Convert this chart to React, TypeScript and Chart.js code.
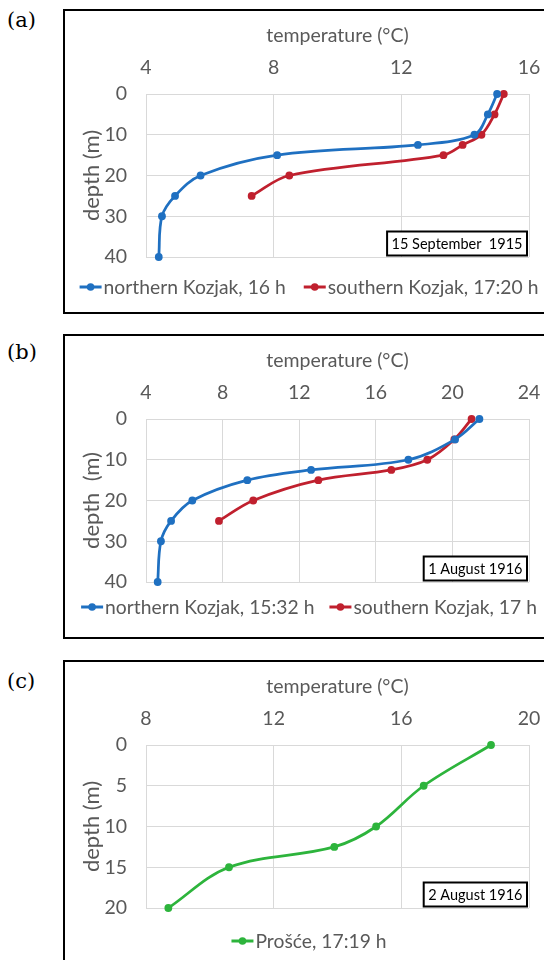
import React, { useEffect, useRef } from 'react';
import { Chart, registerables } from 'chart.js';

Chart.register(...registerables);

const FONT = 'Lato, "Open Sans", sans-serif';
const TEXT = '#595959';
const GRID = '#d9d9d9';
const BLUE = '#1f70c1';
const RED = '#c0202e';
const GREEN = '#2db43c';

// depths (m)
const depthsNorth = [0, 5, 10, 12.5, 15, 20, 25, 30, 40];
const depthsSouth = [0, 5, 10, 12.5, 15, 20, 25];
const depthsProsce = [0, 5, 10, 12.5, 15, 20];

// temperatures (°C)
const tempNorth1915 = [15.0, 14.71, 14.29, 12.52, 8.11, 5.71, 4.91, 4.5, 4.4];
const tempSouth1915 = [15.21, 14.92, 14.51, 13.92, 13.32, 8.49, 7.31];
const tempNorth1916 = [21.41, 20.14, 17.7, 12.62, 9.29, 6.42, 5.31, 4.78, 4.61];
const tempSouth1916 = [21.0, 20.1, 18.69, 16.81, 13.0, 9.6, 7.81];
const tempProsce1916 = [18.81, 16.7, 15.21, 13.9, 10.6, 8.7];

// tick labels
const xTicksA = [4, 8, 12, 16];
const xTicksB = [4, 8, 12, 16, 20, 24];
const xTicksC = [8, 12, 16, 20];
const yTicks40 = [0, 10, 20, 30, 40];
const yTicks20 = [0, 5, 10, 15, 20];

const panelExtras = {
  id: 'panelExtras',
  afterDraw(chart: any, _args: any, opts: any) {
    const ctx = chart.ctx as CanvasRenderingContext2D;
    ctx.save();
    // legend
    ctx.font = `${opts.legendSize}px ${FONT}`;
    ctx.textBaseline = 'middle';
    const ds = chart.data.datasets;
    const markerW = 22;
    const gapText = 2;
    const gapItems = opts.legendGap;
    const widths = ds.map((d: any) => markerW + gapText + ctx.measureText(d.label).width);
    const total = widths.reduce((a: number, b: number) => a + b, 0) + gapItems * (ds.length - 1);
    let x = opts.legendCenter - total / 2;
    const y = opts.legendY;
    ds.forEach((d: any, i: number) => {
      ctx.strokeStyle = d.borderColor;
      ctx.lineWidth = 3;
      ctx.beginPath();
      ctx.moveTo(x, y);
      ctx.lineTo(x + markerW, y);
      ctx.stroke();
      ctx.fillStyle = d.borderColor;
      ctx.beginPath();
      ctx.arc(x + markerW / 2, y, 3.8, 0, Math.PI * 2);
      ctx.fill();
      ctx.fillStyle = TEXT;
      ctx.textAlign = 'left';
      ctx.fillText(d.label, x + markerW + gapText, y + 1);
      x += widths[i] + gapItems;
    });
    // date box
    const area = chart.chartArea;
    ctx.font = `${opts.dateSize}px ${FONT}`;
    const tw = ctx.measureText(opts.dateText).width;
    const bw = tw + 9;
    const bh = 24;
    const right = area.right - 2;
    const bottom = area.bottom - 1.5;
    ctx.fillStyle = '#ffffff';
    ctx.fillRect(right - bw, bottom - bh, bw, bh);
    ctx.strokeStyle = '#000000';
    ctx.lineWidth = 2;
    ctx.strokeRect(right - bw, bottom - bh, bw, bh);
    ctx.fillStyle = '#000000';
    ctx.textAlign = 'center';
    ctx.fillText(opts.dateText, right - bw / 2, bottom - bh / 2 + 1);
    ctx.restore();
  },
};

type Series = { label: string; color: string; depths: number[]; temps: number[] };

function Panel(props: {
  top: number;
  xTicks: number[];
  yTicks: number[];
  yTitle: string;
  series: Series[];
  dateText: string;
  legendY: number;
  legendGap: number;
}) {
  const ref = useRef<HTMLCanvasElement>(null);
  useEffect(() => {
    const { xTicks, yTicks } = props;
    const tickFont = { family: FONT, size: 19.5 };
    const titleFont = { family: FONT, size: 19.5 };
    const yTitleFont = { family: FONT, size: 22 };
    const chart = new Chart(ref.current as HTMLCanvasElement, {
      type: 'scatter',
      data: {
        datasets: props.series.map((s) => ({
          label: s.label,
          data: s.depths.map((d, i) => ({ x: s.temps[i], y: d })),
          borderColor: s.color,
          backgroundColor: s.color,
          showLine: true,
          tension: 0.35,
          borderWidth: 2.75,
          pointRadius: 3.9,
          pointHoverRadius: 3.9,
          pointBorderWidth: 0,
          clip: false as any,
        })),
      },
      options: {
        responsive: false,
        animation: false,
        events: [],
        elements: { line: { capBezierPoints: false } },
        layout: { padding: { left: 0, right: 15, top: 0, bottom: 56 } },
        plugins: {
          legend: { display: false },
          tooltip: { enabled: false },
          panelExtras: {
            dateText: props.dateText,
            legendY: props.legendY,
            legendCenter: 245,
            legendGap: props.legendGap,
            legendSize: 19.3,
            dateSize: 14.5,
          },
        } as any,
        scales: {
          x: {
            type: 'linear',
            position: 'top',
            min: xTicks[0],
            max: xTicks[xTicks.length - 1],
            afterBuildTicks: (s: any) => {
              s.ticks = xTicks.map((v) => ({ value: v }));
            },
            afterFit: (s: any) => {
              s.height = 84;
              s.paddingLeft = 0;
              s.paddingRight = 0;
            },
            grid: { color: GRID, drawTicks: false, lineWidth: 1 },
            border: { color: GRID, width: 1 },
            ticks: { padding: 15, color: TEXT, font: tickFont, maxRotation: 0 },
            title: {
              display: true,
              text: 'temperature (°C)',
              color: TEXT,
              font: titleFont,
              padding: { top: 14.5, bottom: 0 },
            },
          },
          y: {
            type: 'linear',
            reverse: true,
            min: yTicks[0],
            max: yTicks[yTicks.length - 1],
            afterBuildTicks: (s: any) => {
              s.ticks = yTicks.map((v) => ({ value: v }));
            },
            afterFit: (s: any) => {
              s.width = 82;
              s.paddingTop = 0;
              s.paddingBottom = 0;
            },
            grid: { color: GRID, drawTicks: false, lineWidth: 1 },
            border: { color: GRID, width: 1 },
            ticks: { padding: 19, color: TEXT, font: tickFont },
            title: {
              display: true,
              text: props.yTitle,
              color: TEXT,
              font: yTitleFont,
              padding: { top: 15, bottom: 0 },
            },
          },
        },
      } as any,
      plugins: [panelExtras as any],
    });
    return () => chart.destroy();
  }, []);
  return (
    <canvas
      ref={ref}
      width={480}
      height={303}
      style={{ position: 'absolute', left: 64, top: props.top, display: 'block' }}
    />
  );
}

const boxStyle = (top: number, height: number): React.CSSProperties => ({
  position: 'absolute',
  left: 63,
  top,
  width: 520,
  height,
  border: '2px solid #000',
  boxSizing: 'border-box',
  background: '#fff',
});

const labelStyle = (top: number): React.CSSProperties => ({
  position: 'absolute',
  left: 7,
  top,
  fontFamily: '"DejaVu Serif", serif',
  fontSize: 21,
  lineHeight: '21px',
  color: '#000',
});

export default function App() {
  return (
    <div
      style={{
        position: 'fixed',
        left: 0,
        top: 0,
        width: 544,
        height: 960,
        overflow: 'hidden',
        background: '#fff',
      }}
    >
      <div style={labelStyle(10)}>(a)</div>
      <div style={labelStyle(342)}>(b)</div>
      <div style={labelStyle(671)}>(c)</div>
      <div style={boxStyle(9, 305)} />
      <div style={boxStyle(334, 305)} />
      <div style={boxStyle(660, 400)} />
      <Panel
        top={10}
        xTicks={xTicksA}
        yTicks={yTicks40}
        yTitle="depth (m)"
        series={[
          { label: 'northern Kozjak, 16 h', color: BLUE, depths: depthsNorth, temps: tempNorth1915 },
          { label: 'southern Kozjak, 17:20 h', color: RED, depths: depthsSouth, temps: tempSouth1915 },
        ]}
        dateText="15 September  1915"
        legendY={277}
        legendGap={18}
      />
      <Panel
        top={335}
        xTicks={xTicksB}
        yTicks={yTicks40}
        yTitle="depth  (m)"
        series={[
          { label: 'northern Kozjak, 15:32 h', color: BLUE, depths: depthsNorth, temps: tempNorth1916 },
          { label: 'southern Kozjak, 17 h', color: RED, depths: depthsSouth, temps: tempSouth1916 },
        ]}
        dateText="1 August 1916"
        legendY={272}
        legendGap={15}
      />
      <Panel
        top={661}
        xTicks={xTicksC}
        yTicks={yTicks20}
        yTitle="depth (m)"
        series={[{ label: 'Prošće, 17:19 h', color: GREEN, depths: depthsProsce, temps: tempProsce1916 }]}
        dateText="2 August 1916"
        legendY={280}
        legendGap={16}
      />
    </div>
  );
}
